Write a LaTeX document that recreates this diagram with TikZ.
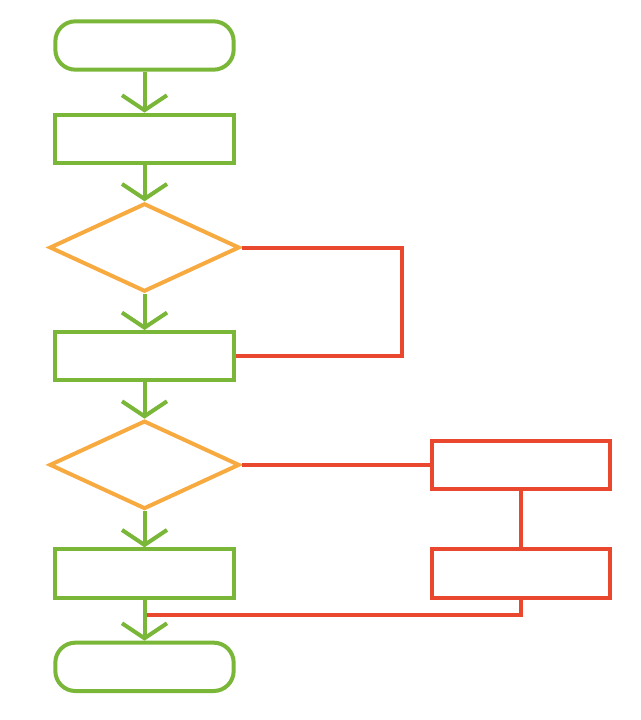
\documentclass[tikz,border=0pt]{standalone}
\usepackage{xcolor}
\usepackage{tikz}
\usetikzlibrary{shapes.geometric,arrows.meta,positioning}
\definecolor{flowgreen}{RGB}{122,183,56}
\definecolor{floworange}{RGB}{247,170,64}
\definecolor{flowred}{RGB}{234,72,46}
\tikzstyle{term} = [rectangle, draw=flowgreen, line width=0.12cm,
    minimum width=5.35cm, minimum height=1.45cm, rounded corners=0.6cm]
\tikzstyle{procbox} = [rectangle, draw=flowgreen, line width=0.12cm,
    minimum width=5.35cm, minimum height=1.45cm]
\tikzstyle{decision} = [diamond, draw=floworange, line width=0.12cm,
    minimum width=5.7cm, minimum height=2.65cm, inner sep=0pt]
\tikzstyle{sidebox} = [procbox, draw=flowred]
\tikzstyle{line} = [draw=flowgreen, line width=0.12cm, -{Straight Barb[length=0.45cm, width=1.35cm]}]
\tikzstyle{redline} = [draw=flowred, line width=0.12cm]

\begin{document}
\begin{tikzpicture}[node distance = 3.26cm, auto]
    \useasboundingbox (-4.335,1.365) rectangle (14.865,-20.235);
    % Place nodes
    \node [term] (start) {};
    \node [procbox, below of=start, node distance=2.8cm] (proc1) {};
    \node [decision, below of=proc1] (dec1) {};
    \node [procbox, below of=dec1] (proc2) {};
    \node [decision, below of=proc2] (dec2) {};
    \node [procbox, below of=dec2] (proc3) {};
    \node [term, below of=proc3, node distance=2.8cm] (stop) {};
    \node [sidebox, right of=dec2, node distance=11.3cm] (side1) {};
    \node [sidebox, right of=proc3, node distance=11.3cm] (side2) {};
    \coordinate (merge) at ([yshift=-0.45cm] proc3.south);
    % Draw edges
    \path [redline] (dec1.east) -- ([xshift=4.8cm] dec1.east) |- (proc2.east);
    \path [redline] (dec2.east) -- (side1.west);
    \path [redline] (side1.south) -- (side2.north);
    \path [redline] (side2.south) |- (merge);
    \path [line] (start) -- (proc1);
    \path [line] (proc1) -- (dec1);
    \path [line] (dec1) -- (proc2);
    \path [line] (proc2) -- (dec2);
    \path [line] (dec2) -- (proc3);
    \path [line] (proc3) -- (stop);
\end{tikzpicture}
\end{document}
